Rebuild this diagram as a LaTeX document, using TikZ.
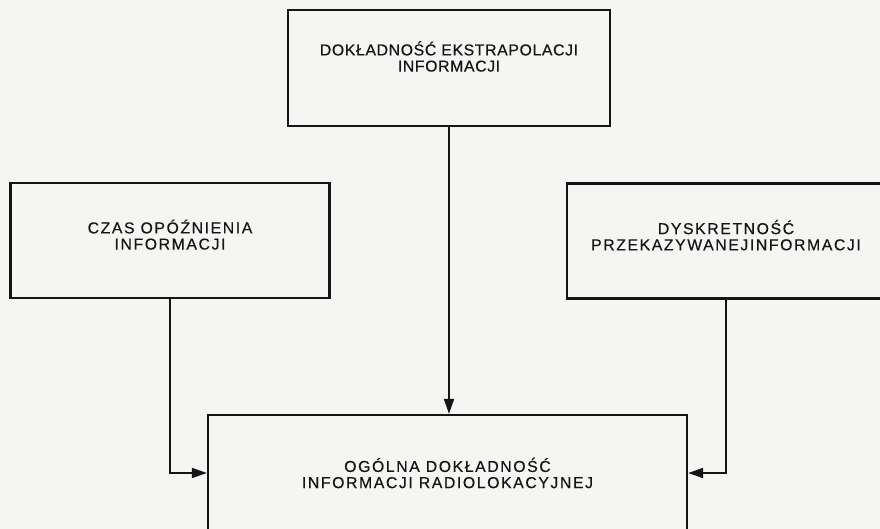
\documentclass[tikz,border=0pt]{standalone}
\usepackage{fontspec}
\usepackage{tikz}
\usepackage{xcolor}
\usetikzlibrary{arrows.meta,positioning}
\newfontfamily\boxfont[LetterSpace=10,FakeBold=0.4]{Liberation Sans}
\newfontfamily\topfont[LetterSpace=4,FakeBold=0.4]{Liberation Sans}
\definecolor{Ink}{HTML}{151515}
\definecolor{Paper}{HTML}{F5F5F3}

\begin{document}
\begin{tikzpicture}[
  x=0.2mm, y=-0.2mm,
  factor/.style={draw=Ink,line width=1.3pt,minimum width=6.38cm,minimum height=2.3cm,align=center,text=Ink,font=\boxfont\fontsize{9}{9.2}\selectfont},
  result/.style={factor,minimum width=9.58cm,minimum height=2.32cm},
  arrow/.style={-{Triangle[length=3mm,width=2mm]},line width=1.1pt,draw=Ink}
]
\useasboundingbox (0,0) rectangle (880,529);
\clip (0,0) rectangle (880,529);
\fill[Paper] (0,0) rectangle (880,529);
\node[factor,minimum width=6.44cm,minimum height=2.32cm,font=\topfont\fontsize{9}{9.2}\selectfont] (extr) at (449,68) {DOKŁADNOŚĆ EKSTRAPOLACJI\\INFORMACJI\\[4pt]};
\node[factor] (delay) at (170,240.5) {CZAS OPÓŹNIENIA\\INFORMACJI\\[-2.5pt]};
\node[factor,minimum width=6.36cm] (discr) at (726,241) {DYSKRETNOŚĆ\\PRZEKAZYWANEJINFORMACJI\\[-2.5pt]};
\node[result] (total) at (447.5,473) {OGÓLNA DOKŁADNOŚĆ\\INFORMACJI RADIOLOKACYJNEJ};
\draw[arrow] (extr.south) -- (extr.south |- total.north);
\draw[arrow] (delay) |- (total);
\draw[arrow] (discr) |- (total);
\end{tikzpicture}
\end{document}
